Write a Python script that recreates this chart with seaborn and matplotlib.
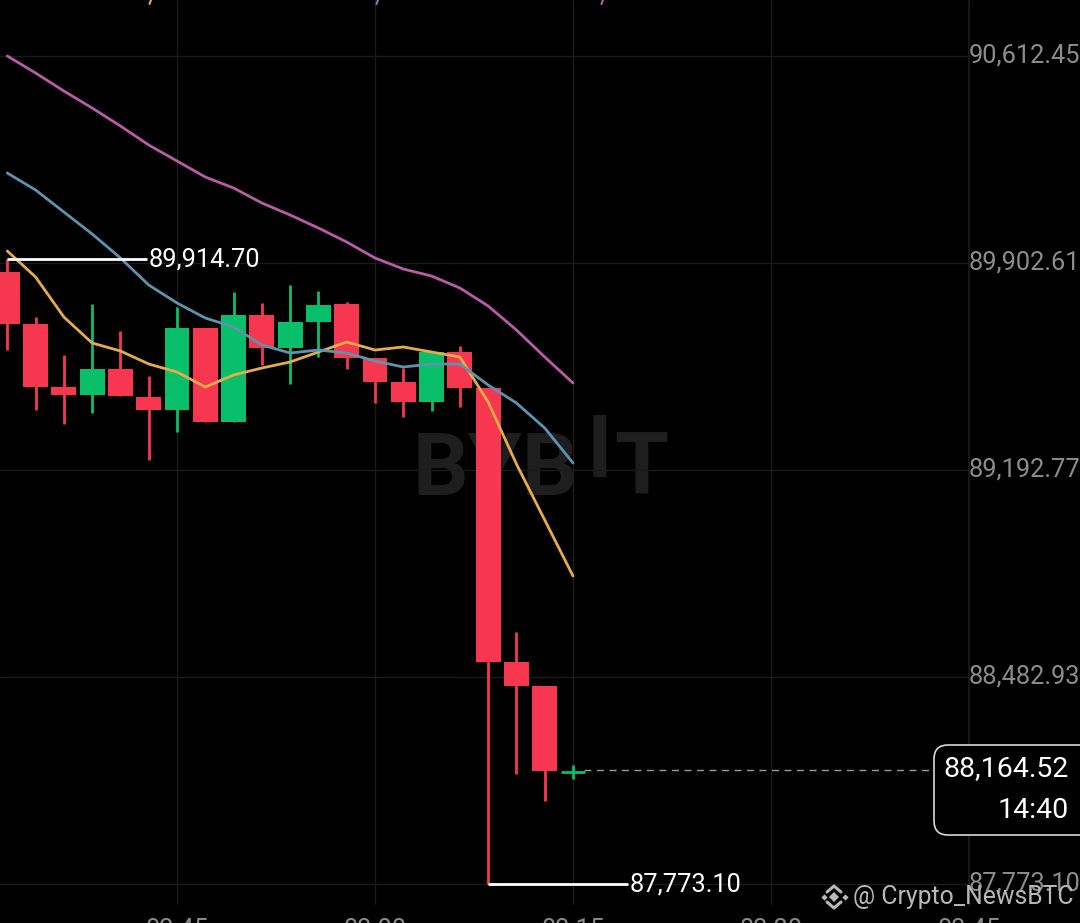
import matplotlib
matplotlib.use("Agg")
import matplotlib.pyplot as plt
import seaborn as sns
from matplotlib.patches import FancyBboxPatch
from matplotlib.transforms import ScaledTranslation

# candles
opens = [89871.8, 89693.4, 89477.4, 89450.0, 89539.1, 89443.1, 89398.5, 89679.7, 89357.4, 89724.3, 89611.1,
         89700.3, 89762.0, 89576.8, 89494.5, 89426.0, 89597.4, 89474.0, 88534.4, 88452.1, 88157.1]
closes = [89693.4, 89477.4, 89450.0, 89539.1, 89446.5, 89398.5, 89679.7, 89357.4, 89724.3, 89611.1, 89700.3,
          89758.6, 89576.8, 89494.5, 89426.0, 89597.4, 89474.0, 88534.4, 88452.1, 88160.6, 88164.52]
highs = [89914.7, 89717.4, 89587.1, 89762.0, 89669.4, 89515.1, 89751.7, 89679.7, 89803.2, 89765.5, 89827.2,
         89806.6, 89768.9, 89576.8, 89542.5, 89597.4, 89618.0, 89474.0, 88637.2, 88452.1, 88181.2]
lows = [89604.3, 89398.5, 89350.5, 89388.2, 89446.5, 89227.1, 89323.1, 89357.4, 89357.4, 89552.8, 89487.7,
        89580.3, 89539.1, 89422.5, 89374.5, 89395.1, 89408.8, 87773.1, 88150.3, 88057.7, 88133.2]

# moving averages
ma_fast = [89943.8, 89854.6, 89717.4, 89628.3, 89600.9, 89556.3, 89528.8, 89477.4, 89518.5, 89542.5, 89563.1,
           89597.4, 89631.7, 89604.3, 89614.6, 89597.4, 89580.3, 89426.0, 89213.4, 89021.3, 88829.3]
ma_mid = [90211.2, 90153.0, 90077.5, 90002.1, 89919.8, 89827.2, 89765.5, 89714.0, 89683.2, 89621.4, 89594.0,
          89604.3, 89594.0, 89566.5, 89546.0, 89556.3, 89556.3, 89484.3, 89422.5, 89336.8, 89216.8]
ma_slow = [90612.45, 90554.2, 90492.4, 90434.1, 90372.4, 90307.3, 90252.4, 90197.5, 90159.8, 90108.4, 90067.2,
           90022.6, 89974.6, 89919.8, 89882.0, 89858.0, 89816.9, 89755.2, 89672.9, 89580.3, 89491.1]

price_ticks = [90612.45, 89902.61, 89192.77, 88482.93, 87773.10]
time_ticks = [6, 13, 20, 27, 34]
time_labels = ["02:45", "03:00", "03:15", "03:30", "03:45"]

RED = "#F7374F"
GREEN = "#0ABF69"
GRID = "#1a1a1a"
W, H = 1080, 923

sns.set_theme(style="dark", rc={"axes.facecolor": "black", "figure.facecolor": "black"})
plt.rcParams["font.family"] = ["Roboto", "DejaVu Sans"]

fig = plt.figure(figsize=(10.8, 9.23), dpi=100)
ax = fig.add_axes([0, 18 / H, 969 / W, 905 / H])
x = list(range(len(opens)))

for i in x:
    color = GREEN if closes[i] >= opens[i] else RED
    ax.vlines(i, lows[i], highs[i], color=color, lw=2.0, zorder=2)
    if i == 20:
        ax.hlines(opens[i], i - 0.44, i + 0.44, color=color, lw=2.0, zorder=2)
    else:
        ax.bar(i, abs(closes[i] - opens[i]), bottom=min(opens[i], closes[i]), width=0.88, color=color, lw=0, zorder=2)

sns.lineplot(x=x, y=ma_fast, ax=ax, color="#E5AC49", lw=2.0, errorbar=None, zorder=3)
sns.lineplot(x=x, y=ma_mid, ax=ax, color="#5D93AE", lw=2.0, errorbar=None, zorder=3)
sns.lineplot(x=x, y=ma_slow, ax=ax, color="#B85CA5", lw=2.0, errorbar=None, zorder=3)

ax.set_xlim(-0.258, 34)
ax.set_ylim(87701.1, 90804.49)
ax.set_xticks(time_ticks, time_labels)
ax.set_yticks(price_ticks, [f"{p:,.2f}" for p in price_ticks])
ax.yaxis.tick_right()
ax.set_axisbelow(True)
ax.grid(True, color=GRID, lw=1)
ax.tick_params(axis="y", length=0, pad=0, labelsize=18.3, labelcolor="#8c8c8c")
ax.tick_params(axis="x", length=0, pad=9.5, labelsize=18.3, labelcolor="#8c8c8c")
for lab in ax.get_yticklabels():
    lab.set_transform(lab.get_transform() + ScaledTranslation(0, 2 / 72, fig.dpi_scale_trans))
for side in ["top", "left", "bottom"]:
    ax.spines[side].set_visible(False)
ax.spines["right"].set_color(GRID)

# high / low markers
ax.hlines(89914.7, 0, 4.94, color="white", lw=2, zorder=4)
ax.text(5.0, 89914.7, "89,914.70", color="white", fontsize=18.3, va="center", ha="left", zorder=5)
ax.hlines(87773.1, 17, 21.94, color="white", lw=2, zorder=4)
ax.text(22.0, 87773.1, "87,773.10", color="white", fontsize=18.3, va="center", ha="left", zorder=5)

# last price
ax.hlines(closes[-1], 20.4, 32.58, color="#9a9a9a", lw=1, linestyles=(0, (5, 4)), zorder=2)

# bits of the cut off legend at the top edge
for px, col in [(151, "#E5AC49"), (378, "#5D93AE"), (603, "#B85CA5")]:
    ax.plot([px / W, (px - 1.5) / W], [1.0, (H - 4) / H], transform=fig.transFigure, color=col, lw=1.5, clip_on=False)

# faint exchange watermark
for s, px, py in [("BYB", 413, 495), ("I", 587, 477), ("T", 614, 495)]:
    ax.text(px / W, (H - py) / H, s, transform=fig.transFigure, color="#1e1e1e", fontsize=63,
            fontweight="bold", ha="left", va="baseline", zorder=0.2)

# price box
box = FancyBboxPatch((934, H - 835), 200, 90, boxstyle="round,pad=0,rounding_size=14", transform=None,
                     fc="black", ec="#d8d8d8", lw=1.2, zorder=6, clip_on=False)
fig.add_artist(box)
fig.text(1069 / W, (H - 769) / H, "88,164.52", color="white", fontsize=20.5, ha="right", va="center", zorder=7)
fig.text(1069 / W, (H - 810) / H, "14:40", color="white", fontsize=20.5, ha="right", va="center", zorder=7)

# source tag with logo
LOGO = "#b8b8b8"
cx, cy = 834, H - 897
fig.text(853 / W, (H - 897) / H, "@ Crypto_NewsBTC", color=LOGO, fontsize=17.8, ha="left", va="center", zorder=7)
for dx, dy, size in [(0, 0, 5), (-10.5, 0, 3.2), (10.5, 0, 3.2)]:
    ax.plot([(cx + dx) / W], [(cy + dy) / H], marker="D", ms=size, color=LOGO, mew=0,
            transform=fig.transFigure, clip_on=False, zorder=7)
for sign in [1, -1]:
    ax.plot([(cx - 7) / W, cx / W, (cx + 7) / W], [(cy + sign * 5) / H, (cy + sign * 11) / H, (cy + sign * 5) / H],
            color=LOGO, lw=2.2, transform=fig.transFigure, clip_on=False, zorder=7)

fig.savefig("out.png", dpi=100, facecolor="black")
